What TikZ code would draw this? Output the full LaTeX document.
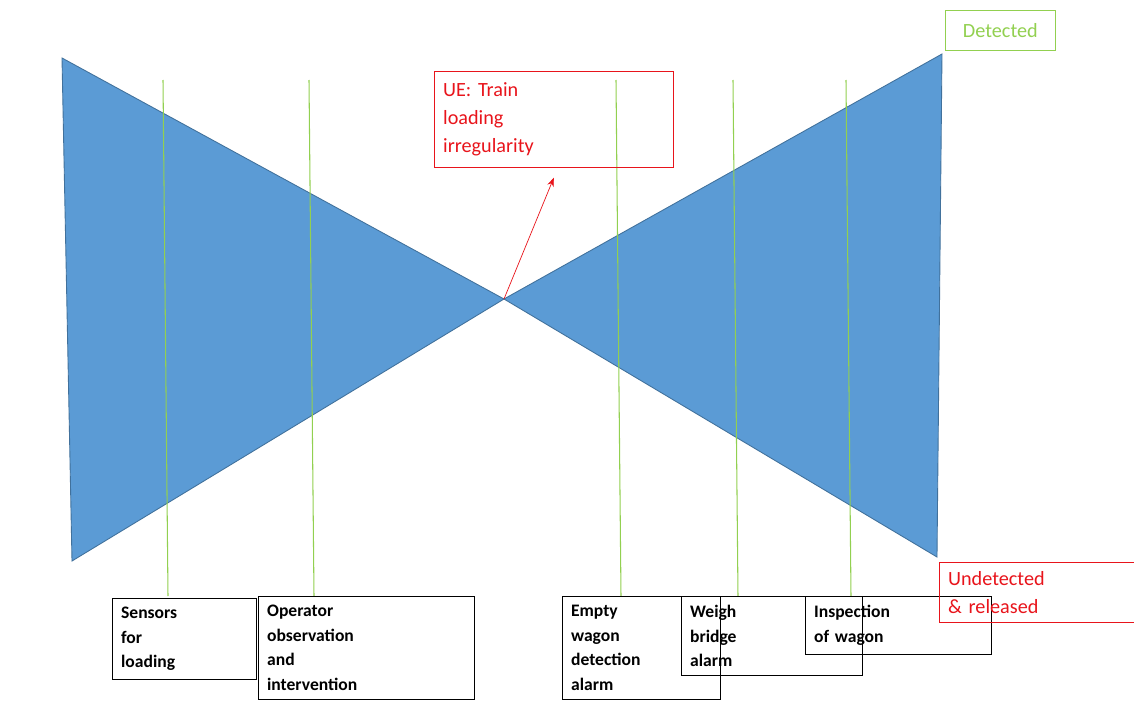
\documentclass[tikz,border=0pt]{standalone}
\usepackage{fontspec}
\setmainfont{Carlito}
\usetikzlibrary{arrows.meta}
\definecolor{bowfill}{HTML}{5B9BD5}
\definecolor{bowedge}{HTML}{41719C}
\definecolor{barrier}{HTML}{92D050}
\definecolor{ue}{HTML}{E8141B}
\tikzset{
  box/.style={draw, black, anchor=north west, align=left, font=\bfseries\fontsize{10}{14}\selectfont, inner sep=5pt},
  redbox/.style={draw=ue, text=ue, anchor=north west, align=left, font=\fontsize{11.5}{16}\selectfont, inner sep=5pt},
  bar/.style={barrier, line width=0.6pt}
}
\begin{document}
\begin{tikzpicture}[x=0.02cm, y=-0.02cm]
\useasboundingbox (0,0) rectangle (1134,720);
% bow tie
\coordinate (c) at (504,299);
\coordinate (l1) at (62,58);
\coordinate (l2) at (72,561);
\coordinate (r1) at (942,54);
\coordinate (r2) at (937,557);
\fill[bowfill, draw=bowedge, line width=0.5pt] (l1) -- (c) -- (l2) -- cycle;
\fill[bowfill, draw=bowedge, line width=0.5pt] (r1) -- (c) -- (r2) -- cycle;
% barriers
\coordinate (t1) at (163,80); \coordinate (b1) at (168,596);
\coordinate (t2) at (309,80); \coordinate (b2) at (314,596);
\coordinate (t3) at (616,80); \coordinate (b3) at (621,596);
\coordinate (t4) at (733,80); \coordinate (b4) at (738,596);
\coordinate (t5) at (846,80); \coordinate (b5) at (851,596);
\foreach \i in {1,...,5} \draw[bar] (t\i) -- (b\i);
% barrier boxes
\node[box, text width=72] (sens) at (112,598) {Sensors\\for\\loading};
\node[box, text width=113] (oper) at (258,596) {Operator\\observation\\and\\intervention};
\node[box, text width=80] (empty) at (562,596) {Empty\\wagon\\detection\\alarm};
\node[box, text width=93] (weigh) at (681,596) {Weigh\\bridge\\alarm};
\node[box, text width=96] (insp) at (805,596) {Inspection\\of wagon};
% event and outcomes
\node[redbox, text width=126, minimum height=96*0.02cm] (ue) at (434,71) {UE: Train\\loading\\irregularity};
\draw[ue, -{Stealth[length=5pt]}] (c) -- ([yshift=-10*0.02cm]ue.south);
\node[draw=barrier, text=barrier, anchor=north west, font=\fontsize{11.5}{16}\selectfont, minimum width=110*0.02cm, minimum height=40*0.02cm] (det) at (945,10) {Detected};
\node[redbox, text width=117] (undet) at (939,562) {Undetected\\\& released};
\end{tikzpicture}
\end{document}
